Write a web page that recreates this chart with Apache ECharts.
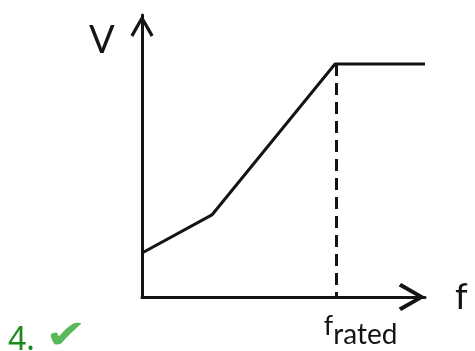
<!DOCTYPE html>
<html>
<head>
<meta charset="utf-8">
<script src="https://cdn.jsdelivr.net/npm/echarts@6/dist/echarts.min.js"></script>
<style>
    html, body { margin: 0; padding: 0; background: #fff; }
    #mainChart { width: 475px; height: 351px; }
</style>
</head>
<body>
<div id="mainChart"></div>
<script>
// V/f curve (axis units 0..100)
var fPoints = [0, 24.7, 68.2, 100];
var vPoints = [15.6, 29.1, 82.6, 82.6];
var fRated = 68.5;
var vRated = 82.6;
var tickLabels = ['f', 'rated'];

var chevron = 'path://M11,0 L22,19 L19.4,21 L11,6 L2.6,21 L0,19 Z';
var ink = '#141414';

var curve = [];
for (var i = 0; i < fPoints.length; i++) {
    curve.push([fPoints[i], vPoints[i]]);
}

var option = {
    animation: false,
    backgroundColor: '#fff',
    grid: { left: 142, right: 50, top: 15, bottom: 54 },
    xAxis: {
        type: 'value',
        min: 0,
        max: 100,
        name: 'f',
        nameLocation: 'end',
        nameGap: 30,
        nameTextStyle: { fontFamily: 'Lato', fontSize: 36, color: ink, padding: [0, 0, 8, 0] },
        axisLine: {
            lineStyle: { color: ink, width: 3 },
            symbol: ['none', chevron],
            symbolSize: [28, 27],
            symbolOffset: [0, -13]
        },
        axisTick: { show: false },
        splitLine: { show: false },
        axisLabel: {
            customValues: [fRated],
            margin: 16,
            align: 'left',
            padding: [0, 0, 0, -12],
            formatter: function () {
                return '{f|' + tickLabels[0] + '}{r|' + tickLabels[1] + '}';
            },
            rich: {
                f: { fontFamily: 'Lato', fontSize: 27, color: ink, verticalAlign: 'top', padding: [0, 0, 0, 0] },
                r: { fontFamily: 'Lato', fontSize: 28, color: ink, verticalAlign: 'top', padding: [8, 0, 0, 0] }
            }
        }
    },
    yAxis: {
        type: 'value',
        min: 0,
        max: 100,
        axisLine: {
            lineStyle: { color: ink, width: 3 },
            symbol: ['none', chevron],
            symbolSize: [23, 22],
            symbolOffset: [0, -11]
        },
        axisTick: { show: false },
        splitLine: { show: false },
        axisLabel: { show: false }
    },
    graphic: [
        { type: 'text', left: 89, top: 22, style: { text: 'V', fontFamily: 'Lato', fontSize: 38, fill: ink } },
        { type: 'text', x: 8, y: 325, style: { text: '4.', fontFamily: 'Noto Sans', fontSize: 32, fill: '#1b8a1b' } },
        { type: 'text', x: 45, y: 318, scaleX: 1.25, style: { text: '\u2714', fontFamily: 'DejaVu Sans', fontSize: 40, fill: '#5cb85c' } }
    ],
    series: [
        {
            type: 'line',
            data: curve,
            symbol: 'none',
            lineStyle: { color: ink, width: 3 },
            markLine: {
                silent: true,
                symbol: 'none',
                label: { show: false },
                lineStyle: { color: ink, width: 3, type: [12, 7] },
                data: [[{ coord: [fRated, vRated] }, { coord: [fRated, 0] }]]
            }
        }
    ]
};

var summaryChart = echarts.init(document.getElementById('mainChart'));
summaryChart.setOption(option);
</script>
</body>
</html>
